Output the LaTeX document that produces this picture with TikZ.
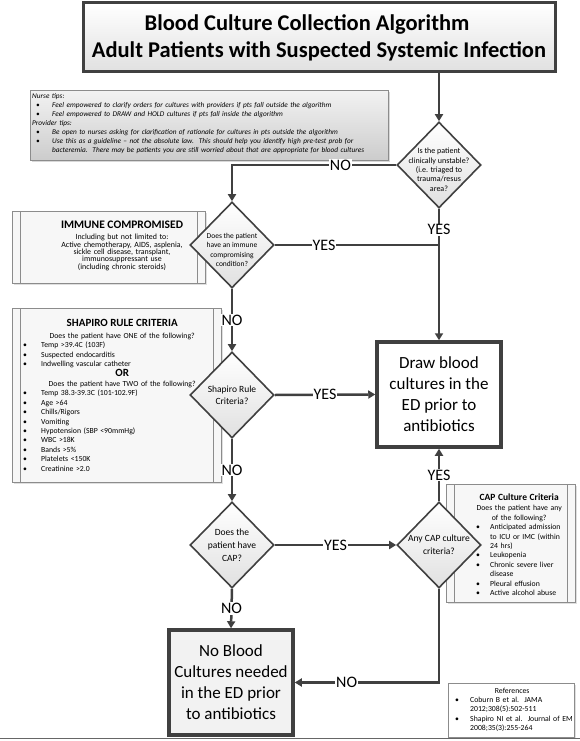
\documentclass[tikz,border=0pt]{standalone}
\usepackage{fontspec}
\setmainfont{Carlito}
\usetikzlibrary{arrows.meta, positioning, shapes.geometric, shadows}
\definecolor{flowgray}{RGB}{64,64,64}
\definecolor{edgegray}{RGB}{140,140,140}
\newcommand{\bitem}[2][20pt]{\par\hangindent=#1\hangafter=1\noindent\makebox[#1][l]{\hspace{4pt}\textbullet}#2}
\newcommand{\critfont}{\fontsize{11}{13}\selectfont\bfseries}
\newcommand{\capfont}{\fontsize{9.5}{11}\selectfont\bfseries}

\begin{document}
\begin{tikzpicture}[x=1pt, y=-1pt,
    flow/.style={line width=2.5pt, draw=flowgray},
    arr/.style={flow, -{Triangle[length=7pt, width=8pt]}},
    lbl/.style={fill=white, inner sep=1pt, font=\fontsize{16}{16}\selectfont},
    titlebox/.style={rectangle, draw=flowgray, line width=3pt, top color=white, bottom color=black!12,
        minimum width=472pt, minimum height=69pt, align=center, font=\fontsize{22.5}{27}\selectfont\bfseries},
    tipsbox/.style={rectangle, anchor=north west, draw=edgegray, line width=0.8pt,
        top color=black!5, bottom color=black!20, minimum width=358pt, minimum height=70pt,
        drop shadow={shadow xshift=1.5pt, shadow yshift=-1.5pt, fill=black!30}},
    tipstext/.style={anchor=base west, inner sep=0pt, text width=354pt, align=left,
        font=\fontsize{7.3}{9}\selectfont\itshape},
    dia/.style={diamond, draw=flowgray, line width=1.6pt, top color=white, bottom color=black!12,
        minimum width=84pt, minimum height=86pt, inner sep=-10pt, align=center},
    outcome/.style={rectangle, draw=flowgray, line width=3.5pt, minimum width=124pt,
        minimum height=105pt, align=center, font=\fontsize{17}{21}\selectfont},
    sidebar/.style={rectangle, anchor=north west, draw=edgegray, line width=0.8pt, fill=black!3,
        drop shadow={shadow xshift=1.5pt, shadow yshift=-1.5pt, fill=black!25}},
    sideline/.style={draw=edgegray, line width=0.8pt},
    boxtext/.style={anchor=base west, inner sep=0pt, align=left, font=\fontsize{7.75}{9.4}\selectfont}
]
\useasboundingbox (0,0) rectangle (580,741);

% title and tips
\node[titlebox] (title) at (319,37.5) {\hspace*{-24pt}Blood Culture Collection Algorithm\\Adult Patients with Suspected Systemic Infection};
\node[tipsbox] (tips) at (30,90) {};
\node[tipstext] (tipsnote) at (32,99) {\noindent Nurse tips:
\bitem[20pt]{Feel empowered to clarify orders for cultures with providers if pts fall outside the algorithm}
\bitem[20pt]{Feel empowered to DRAW and HOLD cultures if pts fall inside the algorithm}
\par\noindent Provider tips:
\bitem[20pt]{Be open to nurses asking for clarification of rationale for cultures in pts outside the algorithm}
\bitem[20pt]{Use this as a guideline -- not the absolute law.\ \ This should help you identify high pre-test prob for\newline bacteremia.\ \ There may be patients you are still worried about that are appropriate for blood cultures}\par};

% criteria boxes
\node[sidebar, minimum width=193pt, minimum height=72pt] (immbox) at (12,211) {};
\draw[sideline] ([xshift=8.5pt]immbox.north west) -- ([xshift=8.5pt]immbox.south west);
\draw[sideline] ([xshift=-8.5pt]immbox.north east) -- ([xshift=-8.5pt]immbox.south east);
\node[boxtext, anchor=base, text width=180pt, align=center, font=\fontsize{7.9}{7.4}\selectfont] (immtext) at (122,228) {{\fontsize{11.5}{13}\selectfont\bfseries IMMUNE COMPROMISED}\\[4.2pt]Including but not limited to:\\Active chemotherapy, AIDS, asplenia,\\sickle cell disease, transplant,\\immunosuppressant use\\(including chronic steroids)};

\node[sidebar, minimum width=209pt, minimum height=174pt] (shapbox) at (12,308) {};
\draw[sideline] ([xshift=8.5pt]shapbox.north west) -- ([xshift=8.5pt]shapbox.south west);
\draw[sideline] ([xshift=-8.5pt]shapbox.north east) -- ([xshift=-8.5pt]shapbox.south east);
\node[boxtext, text width=206pt] (shaptext) at (19,326.5) {{\centering{\critfont SHAPIRO RULE CRITERIA}\\[2.6pt]Does the patient have ONE of the following?\par}
\bitem[22pt]{Temp >39.4C (103F)}
\bitem[22pt]{Suspected endocarditis}
\bitem[22pt]{Indwelling vascular catheter}
\par{\centering{\critfont OR}\\[1pt]Does the patient have TWO of the following?\par}
\bitem[22pt]{Temp 38.3-39.3C (101-102.9F)}
\bitem[22pt]{Age >64}
\bitem[22pt]{Chills/Rigors}
\bitem[22pt]{Vomiting}
\bitem[22pt]{Hypotension (SBP <90mmHg)}
\bitem[22pt]{WBC >18K}
\bitem[22pt]{Bands >5\%}
\bitem[22pt]{Platelets <150K}
\bitem[22pt]{Creatinine >2.0}\par};

\node[sidebar, minimum width=129pt, minimum height=118pt] (capbox) at (446,484) {};
\draw[sideline] ([xshift=8pt]capbox.north west) -- ([xshift=8pt]capbox.south west);
\draw[sideline] ([xshift=-8pt]capbox.north east) -- ([xshift=-8pt]capbox.south east);
\node[boxtext, text width=94pt] (captext) at (472,500) {{\centering{\capfont CAP Culture Criteria}\\[1.5pt]Does the patient have any\\of the following?\par}
\bitem[18pt]{Anticipated admission\newline to ICU or IMC (within\newline 24 hrs)}
\bitem[18pt]{Leukopenia}
\bitem[18pt]{Chronic severe liver\newline disease}
\bitem[18pt]{Pleural effusion}
\bitem[18pt]{Active alcohol abuse}\par};

\node[sidebar, fill=white, minimum width=126pt, minimum height=54pt] (refbox) at (448,683) {};
\node[boxtext, text width=122pt] (reftext) at (451,693) {{\centering References\par}
\bitem[19pt]{Coburn B et al.\ \ JAMA\newline 2012;308(5):502-511}
\bitem[19pt]{Shapiro NI et al.\ \ Journal of EM\newline 2008;35(3):255-264}\par};

% decisions
\node[dia, font=\fontsize{8}{9.4}\selectfont] (unstable) at (439,165) {\rule{0pt}{15pt}Is the patient\\clinically unstable?\\(i.e. triaged to\\trauma/resus\\area?};
\node[dia, font=\fontsize{7.5}{9.3}\selectfont] (immune) at (232,245) {\rule{0pt}{15pt}Does the patient\\have an immune\\compromising\\condition?};
\node[dia, font=\fontsize{9.5}{12}\selectfont] (shapiro) at (232,395) {Shapiro Rule\\Criteria?};
\node[dia, font=\fontsize{9.5}{13}\selectfont] (cap) at (232,545) {Does the\\patient have\\CAP?};
\node[dia, font=\fontsize{9.5}{13}\selectfont] (capcrit) at (439,545) {Any CAP culture\\criteria?};

% outcomes
\node[outcome, fill=white] (draw) at (439,394.5) {Draw blood\\cultures in the\\ED prior to\\antibiotics};
\node[outcome, fill=black!5] (noblood) at (231,682.5) {No Blood\\Cultures needed\\in the ED prior\\to antibiotics};

% connectors
\draw[arr] (title.south -| unstable.north) -- (unstable.north);
\draw[arr] (unstable.west) -| (immune.north) node[lbl, pos=0.17] {NO};
\draw[arr] (unstable.south) -- (draw.north) node[lbl, pos=0.16] {YES};
\draw[flow] (immune.east) -- (immune.east -| unstable.south) node[lbl, pos=0.3] {YES};
\draw[arr] (immune.south) -- (shapiro.north) node[lbl, midway] {NO};
\draw[arr] (shapiro.east) -- (draw.west) node[lbl, midway] {YES};
\draw[arr] (shapiro.south) -- (cap.north) node[lbl, midway] {NO};
\draw[arr] (cap.east) -- (capcrit.west) node[lbl, midway] {YES};
\draw[arr] (capcrit.north) -- (draw.south) node[lbl, midway] {YES};
\draw[arr] (cap.south) -- (noblood.north) node[lbl, midway] {NO};
\draw[arr] (capcrit.south) |- (noblood.east) node[lbl, pos=0.82] {NO};

% page edge
\draw[black!60, line width=1pt] (0,738) -- (580,738);
\end{tikzpicture}
\end{document}
